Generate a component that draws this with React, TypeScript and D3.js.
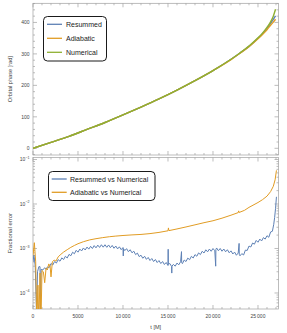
import React from "react";
import * as d3 from "d3";

// ---------- data ----------
const phaseT = [0, 2000, 4000, 6000, 8000, 10000, 12000, 14000, 16000, 18000, 20000, 22000, 23000, 24000, 25000, 25500, 26000, 26400, 26700, 26950];
const phaseNumerical = [0, 19, 38, 60, 82, 106, 131, 157, 185, 215, 247, 283, 303, 325, 351, 366, 384, 402, 420, 442];
const phaseAdiabatic = [0, 19, 38, 60, 82, 106, 131, 157, 185, 215, 247, 282, 302, 323, 348, 362, 377, 391, 401, 410];
const phaseResummed = [0, 19, 38, 60, 82, 106, 131, 157, 185, 215, 247, 283, 303, 324, 350, 364, 381, 397, 410, 421];

// fractional errors, in units of 1e-4: [t, value]
const ERR_UNIT = 1e-4;
const errResummed: [number, number][] = [
  [0, 5.0], [100, 7.1], [250, 4.0], [400, 0.3], [500, 3.0], [650, 3.9], [780, 3.9], [820, 0.3], [900, 3.4], [1100, 3.3], [1300, 3.7], [1450, 3.4],
  [1600, 3.85], [1800, 3.71], [2000, 4.6], [2200, 4.26], [2400, 5.1], [2600, 4.7], [2800, 5.62], [3000, 5.17], [3200, 6.15], [3400, 5.64],
  [3600, 6.69], [3800, 6.11], [4000, 7.38], [4200, 6.86], [4400, 8.24], [4600, 7.61], [4800, 9.1], [5000, 8.27], [5200, 9.7], [5400, 8.8],
  [5600, 10.27], [5800, 9.25], [6000, 10.76], [6200, 9.68], [6400, 11.2], [6600, 10.0], [6800, 11.6], [7000, 10.34], [7200, 11.9], [7400, 10.56],
  [7600, 12.13], [7800, 10.7], [8000, 12.14], [8200, 10.62], [8400, 12.0], [8600, 10.43], [8800, 11.7], [9000, 10.12], [9200, 11.34], [9400, 9.78],
  [9600, 10.9], [9800, 9.4], [10000, 10.5], [10030, 6.8], [10060, 9.9], [10200, 8.97], [10400, 9.93], [10600, 8.48], [10800, 9.37], [11000, 7.99],
  [11200, 8.69], [11400, 7.28], [11600, 7.88], [11800, 6.56], [12000, 7.06], [12200, 6.03], [12400, 6.68], [12600, 5.7], [12800, 6.29], [13000, 5.36],
  [13200, 5.95], [13400, 5.09], [13600, 5.65], [13800, 4.83], [14000, 5.35], [14200, 4.59], [14400, 5.09], [14600, 4.36], [14800, 4.84], [15000, 4.14],
  [15020, 9.6], [15040, 4.4], [15200, 4.6], [15400, 3.95], [15420, 2.8], [15440, 4.0], [15600, 4.39], [15800, 4.0], [16000, 4.7], [16200, 4.3],
  [16400, 5.04], [16500, 8.5], [16520, 4.8], [16600, 4.57], [16800, 5.5], [17000, 5.09], [17200, 6.08], [17400, 5.59], [17600, 6.67], [17800, 6.11],
  [18000, 7.29], [18200, 6.7], [18400, 7.96], [18600, 7.29], [18800, 8.66], [19000, 7.91], [19200, 9.35], [19400, 8.42], [19600, 9.72], [19800, 8.66],
  [20000, 9.98], [20200, 8.89], [20300, 4.0], [20320, 9.5], [20400, 10.27], [20600, 8.9], [20800, 10.0], [21000, 8.67], [21200, 9.73], [21400, 8.42],
  [21600, 9.38], [21800, 8.01], [22000, 8.84], [22200, 7.53], [22400, 8.29], [22600, 7.05], [22800, 7.9], [22900, 13], [22920, 7.4], [23000, 6.84],
  [23200, 7.66], [23400, 7.14], [23600, 9.2], [23800, 9.02], [24000, 11.34], [24200, 10.81], [24400, 13.27], [24600, 12.5], [24800, 15.19], [25000, 13.82],
  [25200, 16.26], [25400, 14.76], [25600, 17.55], [25800, 16.26], [26000, 19.37], [26200, 17.86], [26400, 23.5], [26600, 24.4], [26750, 35], [26850, 50],
  [26950, 80], [27050, 145],
];
const errAdiabatic: [number, number][] = [
  [0, 7], [150, 13.5], [300, 5], [420, 0.2], [550, 1.5], [650, 0.2], [780, 2.8], [880, 0.2], [1000, 3.2], [1150, 3.0], [1300, 1.7], [1450, 3.6],
  [1600, 3.3], [1750, 4.5], [1900, 4.0], [2000, 2.3], [2150, 5.0], [2350, 5.5], [2550, 5.2], [2800, 6.5], [3100, 7.4], [3400, 8.3], [3800, 9.4],
  [4200, 10.6], [4600, 11.7], [5000, 12.8], [5600, 14.2], [6300, 15.6], [7000, 16.6], [7700, 17.5], [8500, 18.4], [9200, 19.0], [10000, 19.6],
  [11000, 20.2], [12000, 20.7], [13000, 21.6], [14000, 23], [15000, 25], [15050, 29], [15100, 25.2], [16000, 27.5], [17000, 30.5], [18000, 34],
  [19000, 38], [20000, 42], [21000, 48], [22000, 56], [22800, 64], [22850, 70], [22900, 64.5], [23500, 72], [24000, 84], [25000, 108], [25500, 125],
  [26000, 150], [26400, 190], [26700, 250], [26900, 350], [27050, 570],
];

const topLegend = ["Resummed", "Adiabatic", "Numerical"];
const bottomLegend = ["Resummed vs Numerical", "Adiabatic vs Numerical"];
const xTickValues = [0, 5000, 10000, 15000, 20000, 25000];
const topYTickValues = [0, 100, 200, 300, 400];
const logExponents = [-1, -2, -3, -4];

// ---------- styling ----------
const W = 287, H = 333;
const BLUE = "#5e81b5", ORANGE = "#e19c24", GREEN = "#8fb032";
const FRAME = "#a0a0a0", LABEL = "#444";
const FONT = "'Liberation Sans', Arial, sans-serif";

const L = 33, R = 278.5;
const TOP_T = 3.3, TOP_B = 155;
const BOT_T = 157.5, BOT_B = 309;

const x = d3.scaleLinear().domain([0, 27278]).range([L, R]);
const yTop = d3.scaleLinear().domain([-21.3, 460.8]).range([TOP_B, TOP_T]);
const yBot = d3.scaleLog().domain([Math.pow(10, -4.36), Math.pow(10, -0.955)]).range([BOT_B, BOT_T]);

const fmtX = (v: number) => (v >= 10000 ? d3.format(",")(v).replace(",", "\u2009") : String(v));

function Frame({ top, bottom, yTicks, yMinor }: { top: number; bottom: number; yTicks: number[]; yMinor: number[] }) {
  const xMajor = xTickValues;
  const xMinor = d3.range(0, 27001, 1000).filter((v) => v % 5000 !== 0);
  return (
    <g stroke={FRAME} strokeWidth={0.7} fill="none">
      <rect x={L} y={top} width={R - L} height={bottom - top} />
      {xMajor.map((v) => (
        <g key={"xM" + v}>
          <line x1={x(v)} x2={x(v)} y1={bottom} y2={bottom - 4} />
          <line x1={x(v)} x2={x(v)} y1={top} y2={top + 4} />
        </g>
      ))}
      {xMinor.map((v) => (
        <g key={"xm" + v}>
          <line x1={x(v)} x2={x(v)} y1={bottom} y2={bottom - 2} />
          <line x1={x(v)} x2={x(v)} y1={top} y2={top + 2} />
        </g>
      ))}
      {yTicks.map((py, i) => (
        <g key={"yM" + i}>
          <line x1={L} x2={L + 4} y1={py} y2={py} />
          <line x1={R} x2={R - 4} y1={py} y2={py} />
        </g>
      ))}
      {yMinor.map((py, i) => (
        <g key={"ym" + i}>
          <line x1={L} x2={L + 2} y1={py} y2={py} />
          <line x1={R} x2={R - 2} y1={py} y2={py} />
        </g>
      ))}
    </g>
  );
}

export default function App() {
  const topLine = (vals: number[]) =>
    d3.line<number>().x((_, i) => x(phaseT[i])).y((v) => yTop(v)).curve(d3.curveMonotoneX)(vals) || "";
  const errLine = (pts: [number, number][]) =>
    d3.line<[number, number]>().x((d) => x(d[0])).y((d) => yBot(Math.max(d[1] * ERR_UNIT, 1e-6)))(pts) || "";

  const topMajor = topYTickValues.map((v) => yTop(v));
  const topMinor = d3.range(-20, 461, 20).filter((v) => v % 100 !== 0).map((v) => yTop(v));
  const botMajor = logExponents.map((e) => yBot(Math.pow(10, e)));
  const botMinor: number[] = [];
  for (let e = -5; e <= -1; e++) for (let m = 2; m <= 9; m++) {
    const v = m * Math.pow(10, e);
    const [d0, d1] = yBot.domain();
    if (v > d0 && v < d1) botMinor.push(yBot(v));
  }

  return (
    <svg width={W} height={H} style={{ position: "fixed", left: 0, top: 0, background: "#fff" }} fontFamily={FONT}>
      <defs>
        <clipPath id="clipTop"><rect x={L} y={TOP_T} width={R - L} height={TOP_B - TOP_T} /></clipPath>
        <clipPath id="clipBot"><rect x={L} y={BOT_T} width={R - L} height={BOT_B - BOT_T} /></clipPath>
      </defs>

      {/* top panel */}
      <Frame top={TOP_T} bottom={TOP_B} yTicks={topMajor} yMinor={topMinor} />
      <g clipPath="url(#clipTop)" fill="none" strokeWidth={1.4}>
        <path d={topLine(phaseResummed)} stroke={BLUE} />
        <path d={topLine(phaseAdiabatic)} stroke={ORANGE} />
        <path d={topLine(phaseNumerical)} stroke={GREEN} />
      </g>
      <g fontSize={5} fill={LABEL} textAnchor="end">
        {topYTickValues.map((v) => (
          <text key={v} x={29.5} y={yTop(v)} dominantBaseline="central">{v}</text>
        ))}
      </g>
      <text transform={`translate(10,${(TOP_T + TOP_B) / 2}) rotate(-90)`} textAnchor="middle" dominantBaseline="central" fontSize={5.6} fill={LABEL}>
        Orbital phase [rad]
      </text>
      <g>
        <rect x={43.5} y={16.5} width={63} height={44.5} rx={4} fill="#fff" stroke="#000" strokeWidth={0.9} />
        {topLegend.map((name, i) => (
          <g key={name}>
            <line x1={47} x2={62} y1={24.3 + i * 14} y2={24.3 + i * 14} stroke={[BLUE, ORANGE, GREEN][i]} strokeWidth={1.3} />
            <text x={66} y={24.3 + i * 14} fontSize={7} fill="#222" dominantBaseline="central">{name}</text>
          </g>
        ))}
      </g>

      {/* bottom panel */}
      <Frame top={BOT_T} bottom={BOT_B} yTicks={botMajor} yMinor={botMinor} />
      <g clipPath="url(#clipBot)" fill="none" strokeWidth={1}>
        <path d={errLine(errResummed)} stroke={BLUE} />
        <path d={errLine(errAdiabatic)} stroke={ORANGE} />
      </g>
      <g fontSize={5} fill={LABEL} textAnchor="end">
        {logExponents.map((e) => (
          <text key={e} x={29.5} y={yBot(Math.pow(10, e)) + 1.8}>
            10<tspan fontSize={3.6} dy={-2.4}>{"\u2212" + Math.abs(e)}</tspan>
          </text>
        ))}
      </g>
      <g fontSize={5} fill={LABEL} textAnchor="middle">
        {xTickValues.map((v) => (
          <text key={v} x={x(v)} y={315.5} dominantBaseline="central">{fmtX(v)}</text>
        ))}
      </g>
      <text x={(L + R) / 2} y={326.5} textAnchor="middle" dominantBaseline="central" fontSize={5.6} fill={LABEL}>t [M]</text>
      <text transform={`translate(9.5,${(BOT_T + BOT_B) / 2}) rotate(-90)`} textAnchor="middle" dominantBaseline="central" fontSize={6} fill={LABEL}>
        Fractional error
      </text>
      <g>
        <rect x={48.5} y={171.5} width={106.5} height={29} rx={4} fill="#fff" stroke="#000" strokeWidth={0.9} />
        {bottomLegend.map((name, i) => (
          <g key={name}>
            <line x1={51.7} x2={66.7} y1={179 + i * 13.3} y2={179 + i * 13.3} stroke={[BLUE, ORANGE][i]} strokeWidth={1.3} />
            <text x={70} y={179 + i * 13.3} fontSize={7} fill="#222" dominantBaseline="central">{name}</text>
          </g>
        ))}
      </g>
    </svg>
  );
}
